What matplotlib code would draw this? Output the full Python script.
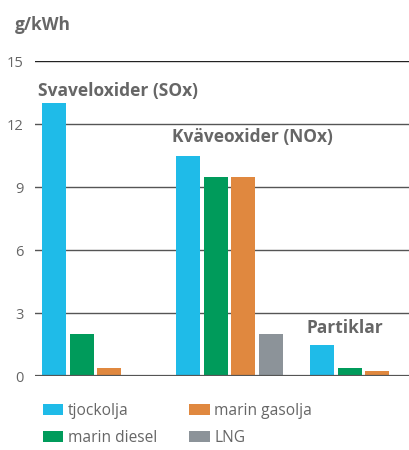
import numpy as np
import matplotlib
matplotlib.use('Agg')
import matplotlib.pyplot as plt

plt.rcParams['font.family'] = ['Open Sans', 'DejaVu Sans']

# data
groups = ['Svaveloxider (SOx)', 'Kväveoxider (NOx)', 'Partiklar']
series = ['tjockolja', 'marin diesel', 'marin gasolja', 'LNG']
values = {
  'tjockolja':     [13.0, 10.5, 1.5],
  'marin diesel':  [2.0, 9.5, 0.4],
  'marin gasolja': [0.4, 9.5, 0.25],
  'LNG':           [0.05, 2.0, 0.0],
}
colors = {
  'tjockolja': '#1fbbe8',
  'marin diesel': '#009b5b',
  'marin gasolja': '#e0883f',
  'LNG': '#8c9399',
}
yticks = [0, 3, 6, 9, 12, 15]
label_heights = [13.35, 11.15, 2.05]

text_col = '#666666'

fig = plt.figure(figsize=(4.09, 4.5), dpi=100)
ax = fig.add_axes([0.0856, 0.1644, 0.9144, 0.70])

x = np.arange(len(groups))
step = 0.205
w = 0.18
for j, s in enumerate(series):
  ax.bar(x + (j - 1.5) * step, values[s], width=w, color=colors[s], label=s, zorder=3)

ax.set_ylim(0, 15)
ax.set_xlim(-0.45, 2.34)
ax.set_yticks(yticks)
ax.set_xticks([])
for t in yticks:
  if t == 15:
    ax.axhline(t, color='#222222', lw=1.0, zorder=1)
  elif t == 0:
    ax.axhline(t, color='#555555', lw=1.6, zorder=4)
  else:
    ax.axhline(t, color='#555555', lw=1.0, zorder=1)
for sp in ax.spines.values():
  sp.set_visible(False)
ax.tick_params(axis='y', length=0, pad=8, labelsize=10.5, labelcolor=text_col)

for i, g in enumerate(groups):
  ax.text(x[i] - 1.5 * step - w / 2 - 0.03, label_heights[i], g, fontsize=12.5,
          fontweight='bold', color=text_col, va='baseline', ha='left')

fig.text(0.037, 0.944, 'g/kWh', fontsize=12.5, fontweight='bold', color=text_col,
         va='center', ha='left')

leg = fig.legend(loc='lower left', bbox_to_anchor=(0.07, -0.022), ncol=2, frameon=False,
                 fontsize=11.2, handlelength=1.3, handleheight=0.65, handletextpad=0.3,
                 columnspacing=2.1, labelspacing=0.7)
for t in leg.get_texts():
  t.set_color(text_col)

fig.savefig('out.png', dpi=100)
